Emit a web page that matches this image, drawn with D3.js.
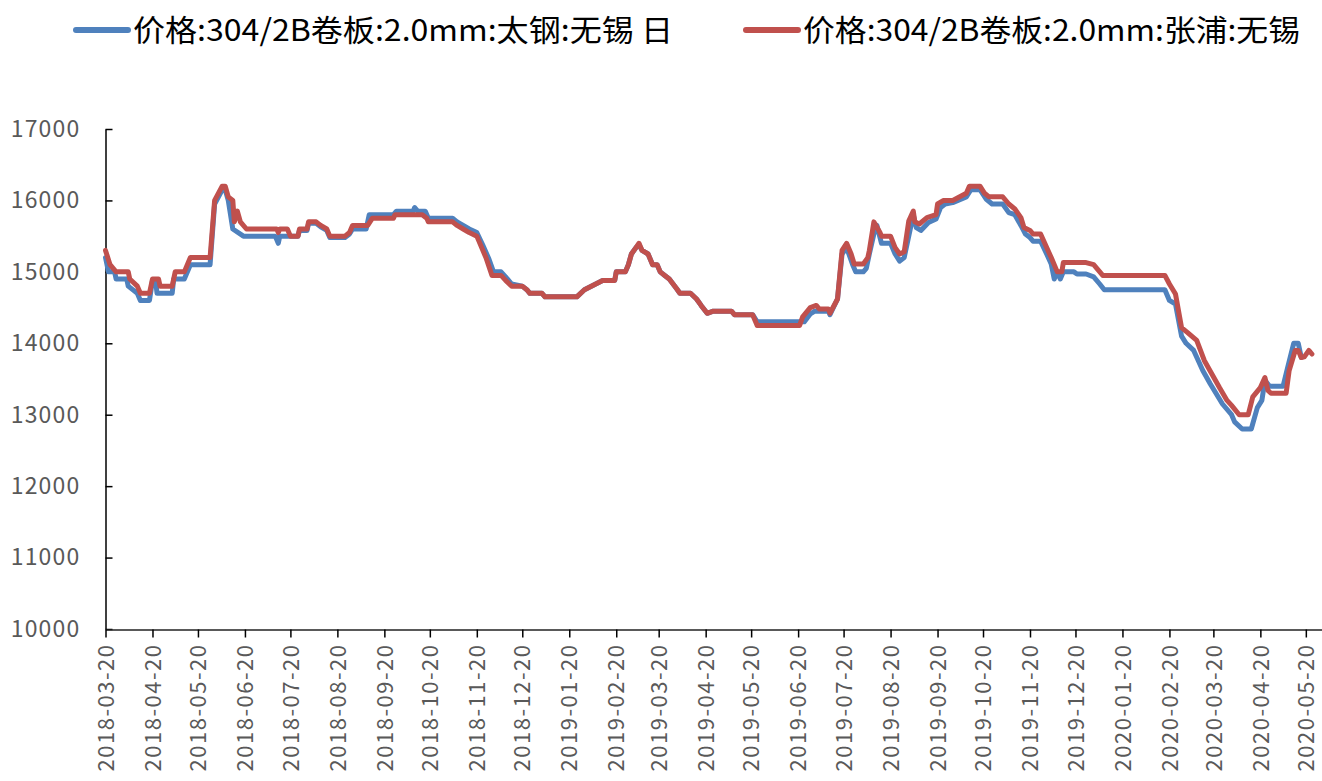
<!DOCTYPE html>
<html>
<head>
<meta charset="utf-8">
<script src="https://cdn.jsdelivr.net/npm/d3@7"></script>
<style>
  body { margin: 0; background: #fff; }
  text { font-family: "Noto Sans CJK SC", "Noto Sans", sans-serif; }
</style>
</head>
<body>
<div id="container"></div>
<script>
var W = 1322, H = 781;

var seriesNames = ['价格:304/2B卷板:2.0mm:太钢:无锡 日', '价格:304/2B卷板:2.0mm:张浦:无锡'];
var seriesColors = ['#4f81bd', '#c0504d'];

var yTicks = [10000, 11000, 12000, 13000, 14000, 15000, 16000, 17000];

// 太钢 (blue)
var taigangDates = [
  '2018-03-20', '2018-03-22', '2018-03-26', '2018-03-27', '2018-04-03', '2018-04-04', '2018-04-10', '2018-04-12',
  '2018-04-18', '2018-04-20', '2018-04-22', '2018-04-23', '2018-05-03', '2018-05-04', '2018-05-11', '2018-05-15',
  '2018-05-28', '2018-05-31', '2018-06-05', '2018-06-07', '2018-06-09', '2018-06-12', '2018-06-19', '2018-07-10',
  '2018-07-12', '2018-07-13', '2018-07-25', '2018-07-26', '2018-07-31', '2018-08-01', '2018-08-06', '2018-08-09',
  '2018-08-13', '2018-08-15', '2018-08-25', '2018-08-28', '2018-08-30', '2018-09-08', '2018-09-10', '2018-09-26',
  '2018-09-28', '2018-10-09', '2018-10-10', '2018-10-12', '2018-10-17', '2018-10-19', '2018-11-04', '2018-11-07',
  '2018-11-11', '2018-11-15', '2018-11-20', '2018-11-24', '2018-11-28', '2018-12-01', '2018-12-06', '2018-12-09',
  '2018-12-13', '2018-12-20', '2018-12-23', '2018-12-25', '2019-01-02', '2019-01-04', '2019-01-25', '2019-01-30',
  '2019-02-11', '2019-02-19', '2019-02-20', '2019-02-26', '2019-02-28', '2019-03-02', '2019-03-05', '2019-03-07',
  '2019-03-09', '2019-03-13', '2019-03-16', '2019-03-19', '2019-03-21', '2019-03-24', '2019-03-27', '2019-04-01',
  '2019-04-03', '2019-04-10', '2019-04-14', '2019-04-17', '2019-04-21', '2019-04-25', '2019-05-07', '2019-05-09',
  '2019-05-21', '2019-05-24', '2019-06-24', '2019-06-28', '2019-07-01', '2019-07-10', '2019-07-11', '2019-07-16',
  '2019-07-19', '2019-07-22', '2019-07-26', '2019-07-28', '2019-08-02', '2019-08-04', '2019-08-06', '2019-08-09',
  '2019-08-11', '2019-08-14', '2019-08-20', '2019-08-23', '2019-08-26', '2019-08-29', '2019-09-02', '2019-09-04',
  '2019-09-06', '2019-09-09', '2019-09-14', '2019-09-19', '2019-09-22', '2019-09-25', '2019-09-30', '2019-10-09',
  '2019-10-12', '2019-10-18', '2019-10-22', '2019-10-26', '2019-11-02', '2019-11-06', '2019-11-10', '2019-11-14',
  '2019-11-17', '2019-11-20', '2019-11-22', '2019-11-27', '2019-12-01', '2019-12-04', '2019-12-06', '2019-12-08',
  '2019-12-10', '2019-12-12', '2019-12-19', '2019-12-21', '2019-12-27', '2020-01-01', '2020-01-05', '2020-01-08',
  '2020-02-17', '2020-02-20', '2020-02-24', '2020-02-28', '2020-03-02', '2020-03-07', '2020-03-10', '2020-03-13',
  '2020-03-18', '2020-03-22', '2020-03-26', '2020-04-01', '2020-04-03', '2020-04-08', '2020-04-14', '2020-04-18',
  '2020-04-21', '2020-04-23', '2020-04-26', '2020-05-05', '2020-05-08', '2020-05-12', '2020-05-15', '2020-05-17'
];
var taigangValues = [
  15200, 15000, 15000, 14900, 14900, 14800, 14700, 14600,
  14600, 14880, 14880, 14700, 14700, 14900, 14900, 15100,
  15100, 15950, 16150, 16150, 16000, 15600, 15500, 15500,
  15400, 15500, 15500, 15580, 15580, 15680, 15680, 15630,
  15580, 15480, 15480, 15530, 15600, 15600, 15800, 15800,
  15850, 15850, 15900, 15850, 15850, 15750, 15750, 15700,
  15650, 15600, 15550, 15370, 15180, 15000, 15000, 14930,
  14830, 14800, 14750, 14700, 14700, 14650, 14650, 14750,
  14880, 14880, 15000, 15000, 15100, 15250, 15340, 15380,
  15300, 15250, 15100, 15100, 15000, 14950, 14900, 14760,
  14700, 14700, 14620, 14530, 14420, 14450, 14450, 14400,
  14400, 14300, 14300, 14410, 14450, 14450, 14400, 14620,
  15250, 15340, 15100, 15000, 15000, 15050, 15250, 15530,
  15650, 15400, 15400, 15250, 15150, 15200, 15600, 15800,
  15620, 15580, 15690, 15740, 15900, 15950, 15970, 16050,
  16150, 16150, 16020, 15950, 15950, 15830, 15800, 15650,
  15530, 15480, 15430, 15430, 15250, 15110, 14900, 15000,
  14900, 15000, 15000, 14970, 14970, 14930, 14830, 14750,
  14750, 14600, 14550, 14100, 14000, 13900, 13760, 13620,
  13430, 13290, 13150, 13000, 12900, 12800, 12800, 13100,
  13200, 13480, 13400, 13400, 13660, 14000, 14000, 13800
];

// 张浦 (red)
var zhangpuDates = [
  '2018-03-20', '2018-03-23', '2018-03-27', '2018-04-04', '2018-04-05', '2018-04-10', '2018-04-12', '2018-04-18',
  '2018-04-20', '2018-04-24', '2018-04-25', '2018-05-03', '2018-05-05', '2018-05-11', '2018-05-15', '2018-05-28',
  '2018-05-31', '2018-06-05', '2018-06-07', '2018-06-09', '2018-06-12', '2018-06-13', '2018-06-15', '2018-06-17',
  '2018-06-21', '2018-07-11', '2018-07-12', '2018-07-13', '2018-07-18', '2018-07-20', '2018-07-25', '2018-07-26',
  '2018-07-31', '2018-08-01', '2018-08-06', '2018-08-09', '2018-08-13', '2018-08-15', '2018-08-25', '2018-08-28',
  '2018-08-30', '2018-09-09', '2018-09-12', '2018-09-26', '2018-09-27', '2018-10-15', '2018-10-18', '2018-10-19',
  '2018-11-04', '2018-11-07', '2018-11-11', '2018-11-15', '2018-11-20', '2018-11-23', '2018-11-26', '2018-11-30',
  '2018-12-06', '2018-12-09', '2018-12-13', '2018-12-20', '2018-12-23', '2018-12-25', '2019-01-02', '2019-01-04',
  '2019-01-25', '2019-01-30', '2019-02-11', '2019-02-19', '2019-02-20', '2019-02-26', '2019-02-28', '2019-03-02',
  '2019-03-05', '2019-03-07', '2019-03-09', '2019-03-13', '2019-03-16', '2019-03-19', '2019-03-21', '2019-03-24',
  '2019-03-27', '2019-04-01', '2019-04-03', '2019-04-10', '2019-04-14', '2019-04-17', '2019-04-21', '2019-04-25',
  '2019-05-07', '2019-05-09', '2019-05-21', '2019-05-24', '2019-06-21', '2019-06-23', '2019-06-28', '2019-07-02',
  '2019-07-04', '2019-07-10', '2019-07-11', '2019-07-16', '2019-07-19', '2019-07-22', '2019-07-25', '2019-07-27',
  '2019-08-02', '2019-08-05', '2019-08-06', '2019-08-09', '2019-08-13', '2019-08-14', '2019-08-20', '2019-08-23',
  '2019-08-26', '2019-08-29', '2019-09-01', '2019-09-04', '2019-09-05', '2019-09-08', '2019-09-13', '2019-09-19',
  '2019-09-20', '2019-09-24', '2019-09-30', '2019-10-09', '2019-10-11', '2019-10-18', '2019-10-21', '2019-10-24',
  '2019-11-02', '2019-11-06', '2019-11-10', '2019-11-14', '2019-11-16', '2019-11-20', '2019-11-22', '2019-11-27',
  '2019-12-01', '2019-12-04', '2019-12-08', '2019-12-11', '2019-12-12', '2019-12-27', '2020-01-01', '2020-01-07',
  '2020-02-17', '2020-02-20', '2020-02-24', '2020-02-28', '2020-03-03', '2020-03-09', '2020-03-14', '2020-03-19',
  '2020-03-24', '2020-03-29', '2020-04-01', '2020-04-06', '2020-04-12', '2020-04-15', '2020-04-20', '2020-04-23',
  '2020-04-25', '2020-04-27', '2020-05-07', '2020-05-09', '2020-05-13', '2020-05-15', '2020-05-17', '2020-05-19',
  '2020-05-22', '2020-05-24'
];
var zhangpuValues = [
  15300, 15100, 15000, 15000, 14900, 14800, 14700, 14700,
  14900, 14900, 14800, 14800, 15000, 15000, 15200, 15200,
  16000, 16200, 16200, 16050, 16000, 15700, 15850, 15700,
  15600, 15600, 15550, 15600, 15600, 15500, 15500, 15600,
  15600, 15700, 15700, 15650, 15600, 15500, 15500, 15550,
  15650, 15650, 15750, 15750, 15800, 15800, 15750, 15700,
  15700, 15650, 15600, 15550, 15500, 15350, 15200, 14950,
  14950, 14880, 14800, 14800, 14750, 14700, 14700, 14650,
  14650, 14750, 14880, 14880, 15000, 15000, 15100, 15250,
  15340, 15400, 15300, 15250, 15100, 15100, 15000, 14950,
  14900, 14760, 14700, 14700, 14620, 14530, 14420, 14450,
  14450, 14400, 14400, 14250, 14250, 14370, 14500, 14530,
  14480, 14480, 14420, 14620, 15300, 15400, 15250, 15110,
  15110, 15200, 15300, 15700, 15550, 15500, 15500, 15340,
  15250, 15280, 15710, 15850, 15700, 15670, 15760, 15800,
  15950, 16000, 16000, 16100, 16200, 16200, 16100, 16050,
  16050, 15950, 15880, 15760, 15620, 15580, 15530, 15530,
  15340, 15200, 15000, 15000, 15130, 15130, 15100, 14950,
  14950, 14830, 14690, 14220, 14150, 14040, 13760, 13570,
  13380, 13200, 13130, 13000, 13000, 13250, 13380, 13520,
  13340, 13300, 13300, 13620, 13900, 13900, 13800, 13810,
  13900, 13850
];

var parse = d3.timeParse('%Y-%m-%d');
var fmt = d3.timeFormat('%Y-%m-%d');

function toPoints(dates, values) {
  return dates.map(function (d, i) {
    return { date: parse(d), value: values[i] };
  });
}
var series = [toPoints(taigangDates, taigangValues), toPoints(zhangpuDates, zhangpuValues)];

var svg = d3.select('#container')
  .append('svg')
  .attr('width', W).attr('height', H);

var x = d3.scaleTime()
  .domain([parse('2018-03-20'), parse('2020-05-31')])
  .range([105.5, 1322.5]);
var y = d3.scaleLinear()
  .domain([10000, 17000])
  .range([629, 129]);

// ticks on the 20th of each month
var xTicks = d3.timeMonth.range(parse('2018-03-01'), parse('2020-06-01')).map(function (d) {
  return new Date(d.getFullYear(), d.getMonth(), 20);
});

var yAxis = svg.append('g')
  .attr('transform', 'translate(105.5,0)')
  .call(d3.axisLeft(y).tickValues(yTicks).tickFormat(d3.format('d'))
    .tickSize(-7).tickPadding(25).tickSizeOuter(0));
yAxis.select('.domain').attr('stroke', '#000').attr('stroke-width', 1.5);
yAxis.selectAll('.tick line').attr('stroke', '#000').attr('stroke-width', 1.5);
yAxis.selectAll('.tick text')
  .attr('fill', '#595959')
  .style('font-size', '23px')
  .style('letter-spacing', '1.2px');

var xAxis = svg.append('g')
  .attr('transform', 'translate(0,629.5)')
  .call(d3.axisBottom(x).tickValues(xTicks).tickFormat(fmt).tickSize(8).tickSizeOuter(0));
xAxis.select('.domain').attr('stroke', '#222').attr('stroke-width', 1.5);
xAxis.selectAll('.tick line').attr('stroke', '#000').attr('stroke-width', 1.5);
xAxis.selectAll('.tick text')
  .attr('fill', '#595959')
  .style('font-size', '22px')
  .style('letter-spacing', '1.5px')
  .attr('transform', 'rotate(-90)')
  .attr('text-anchor', 'end')
  .attr('x', -14)
  .attr('y', 0)
  .attr('dy', '0.35em');

var line = d3.line()
  .x(function (d) { return x(d.date); })
  .y(function (d) { return y(d.value); });

svg.selectAll('.series')
  .data(series)
  .enter().append('path')
  .attr('class', 'series')
  .attr('d', line)
  .attr('fill', 'none')
  .attr('stroke', function (d, i) { return seriesColors[i]; })
  .attr('stroke-width', 5)
  .attr('stroke-linejoin', 'round')
  .attr('stroke-linecap', 'round');

// legend
var legendX = [76, 746];
var legendTextLen = [540, 497];
var legend = svg.selectAll('.legend')
  .data(seriesNames)
  .enter().append('g')
  .attr('class', 'legend')
  .attr('transform', function (d, i) { return 'translate(' + legendX[i] + ',30)'; });
legend.append('line')
  .attr('x1', 0).attr('x2', 52)
  .attr('stroke', function (d, i) { return seriesColors[i]; })
  .attr('stroke-width', 6)
  .attr('stroke-linecap', 'round');
legend.append('text')
  .attr('x', 57)
  .attr('dy', '0.35em')
  .style('font-size', '30px')
  .attr('textLength', function (d, i) { return legendTextLen[i]; })
  .attr('lengthAdjust', 'spacingAndGlyphs')
  .attr('fill', '#000')
  .text(function (d) { return d; });
</script>
</body>
</html>
